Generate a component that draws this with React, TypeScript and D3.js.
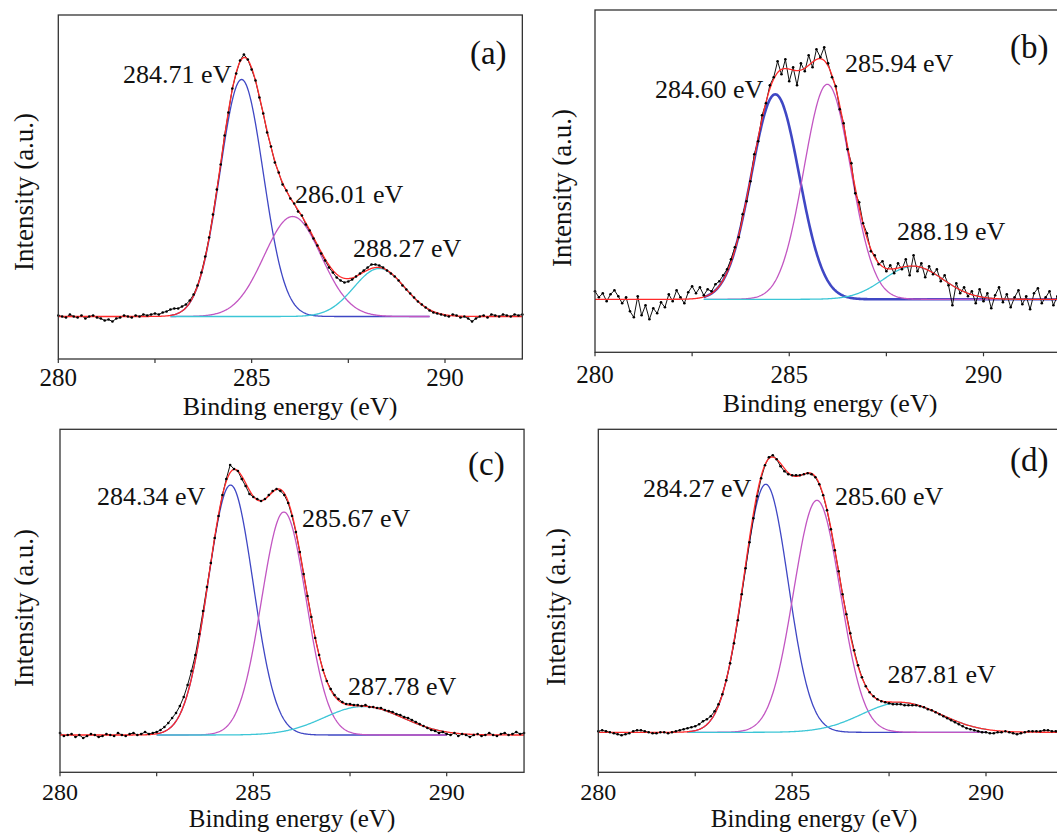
import React from 'react';
import * as d3 from 'd3';

// ---------- shared axis data ----------
const energyStart = 280;
const energyStep = 0.1;
const xDomain = [280, 292];
const xTicksMajor = [280, 285, 290];
const xTicksMinor = [282.5, 287.5];
const xTitle = 'Binding energy (eV)';
const yTitle = 'Intensity (a.u.)';
const panelNames = ['(a)', '(b)', '(c)', '(d)'];
const componentColors = ['#3f47c4', '#c256c2', '#3cc6d6'];

// ---------- measured spectra (intensity above background, a.u., 280.0 -> 292.0 eV, 0.1 eV step) ----------
const spectrumA = [
  1, 0, -1, 2, 0, -1, 1, -2, 0, 1, -1, -2, -4, -3, -5, -2, -1, 1, 0, -1, 1, 0, 2, 1, 2,
  3, 2, 4, 5, 7, 8, 8, 10, 12, 16, 22, 31, 44, 60, 79, 102, 127, 152, 181, 204,
  228, 243, 256, 262, 257, 247, 236, 219, 203, 184, 170, 154, 144, 132, 126,
  118, 113, 105, 101, 92, 86, 78, 71, 63, 56, 49, 44, 39, 36, 34, 35, 37, 40, 43, 46,
  49, 52, 52, 51, 49, 46, 43, 40, 36, 31, 27, 23, 19, 15, 12, 9, 6, 4, 3, 2,
  1, 0, 2, 1, -1, 0, -2, -5, -2, 0, 1, -1, 2, 1, 0, 2, 1, 0, 2, 1, 2,
];
const spectrumB = [
  8, 2, 6, -2, 5, 9, 3, -4, 2, -12, -18, 3, -16, -6, -20, -9, -14, -3, -8, 5, -2, 9, 2, -4, 7,
  13, 6, 12, 4, 10, 8, 15, 18, 24, 30, 40, 52, 62, 85, 98, 118, 145, 158, 184, 196,
  214, 222, 238, 225, 240, 218, 232, 214, 236, 228, 244, 232, 250, 242, 252,
  236, 222, 213, 190, 176, 150, 136, 106, 97, 76, 66, 48, 44, 35, 38, 28, 34, 26, 36, 30,
  40, 24, 44, 28, 36, 22, 33, 25, 30, 18, 24, 14, -6, 16, 6, 12, 3, 8, -4, 10,
  -2, 6, -9, 4, 12, -3, 5, -8, 2, 9, -5, 3, -10, 6, 11, -4, 2, 8, -6, 3, 5,
];
const spectrumC = [
  2, -1, 0, 1, -2, 0, -3, -1, 1, 0, -2, -1, 1, 0, -1, 2, 0, -1, 1, 2, 0, 1, 3, 1, 2,
  3, 5, 8, 12, 17, 22, 29, 38, 50, 64, 80, 101, 124, 148, 172, 197, 219, 240, 256, 270,
  266, 264, 256, 249, 241, 238, 236, 234, 236, 240, 244, 246, 244, 240, 232,
  219, 203, 183, 161, 139, 118, 97, 80, 65, 54, 46, 40, 36, 33, 31, 31, 30, 30, 29, 30,
  28, 28, 27, 27, 25, 24, 23, 21, 20, 18, 17, 15, 13, 11, 9, 7, 5, 4, 2, 3,
  1, 0, 2, -1, 1, 0, -2, 0, 1, -1, 0, 2, 0, -1, 1, 2, 0, 1, 3, 1, 2,
];
const spectrumD = [
  1, 2, 1, 0, -1, -2, -3, -2, -1, 1, 2, 2, 1, 0, -1, -1, 0, 0, -1, 0, 1, 2, 3, 4, 5,
  6, 8, 11, 13, 16, 21, 28, 38, 52, 69, 89, 112, 138, 164, 190, 214, 236, 254, 267, 275,
  277, 273, 266, 261, 258, 257, 257, 257, 258, 259, 258, 255, 248, 237, 222,
  203, 182, 161, 138, 118, 99, 82, 67, 55, 46, 40, 36, 33, 31, 30, 29, 28, 28, 28, 27,
  27, 27, 27, 26, 25, 23, 22, 20, 18, 16, 14, 12, 10, 8, 6, 4, 3, 2, 1, 0,
  0, -1, -1, 0, 0, 1, 0, -1, -2, -1, 0, 1, 1, 1, 1, 2, 2, 1, 1, 2, 2,
];

// ---------- fitted components: centre (eV), height (a.u.), FWHM (eV) ----------
const peakCentersA = [284.74, 286.06, 288.3];
const peakHeightsA = [237, 100, 48];
const peakFwhmA = [1.32, 1.74, 1.55];
const peakLabelsA = ['284.71 eV', '286.01 eV', '288.27 eV'];

const peakCentersB = [284.64, 285.98, 288.19];
const peakHeightsB = [205, 215, 33];
const peakFwhmB = [1.45, 1.42, 1.8];
const peakLabelsB = ['284.60 eV', '285.94 eV', '288.19 eV'];

const peakCentersC = [284.41, 285.79, 287.84];
const peakHeightsC = [250, 223, 28.5];
const peakFwhmC = [1.38, 1.36, 2.4];
const peakLabelsC = ['284.34 eV', '285.67 eV', '287.78 eV'];

const peakCentersD = [284.32, 285.64, 287.81];
const peakHeightsD = [248, 232, 29.7];
const peakFwhmD = [1.36, 1.42, 2.4];
const peakLabelsD = ['284.27 eV', '285.60 eV', '287.81 eV'];

const panelData = [
  { spectrum: spectrumA, centers: peakCentersA, heights: peakHeightsA, fwhm: peakFwhmA, labels: peakLabelsA },
  { spectrum: spectrumB, centers: peakCentersB, heights: peakHeightsB, fwhm: peakFwhmB, labels: peakLabelsB },
  { spectrum: spectrumC, centers: peakCentersC, heights: peakHeightsC, fwhm: peakFwhmC, labels: peakLabelsC },
  { spectrum: spectrumD, centers: peakCentersD, heights: peakHeightsD, fwhm: peakFwhmD, labels: peakLabelsD },
];

// ---------- layout (positions / sizes only) ----------
const layouts = [
  {
    left: 58.3, top: 15, bottom: 359, pxPerEv: 38.67, yDomain: [-42.5, 301.5], compRange: [282.9, 289.6],
    tickY: 386, tickSize: 25, titleX: 290, titleY: 415, titleSize: 26, yTitleX: 33, yTitleY: 192, blueWidth: 1.3,
    labelAt: [[281.676, 233.2], [286.121, 113.2], [287.621, 59.8]], nameAt: [290.646, 252.5],
  },
  {
    left: 595, top: 10, bottom: 352.3, pxPerEv: 38.85, yDomain: [-53, 289.3], compRange: [282.8, 292],
    tickY: 383, tickSize: 25, titleX: 830, titleY: 412, titleSize: 26, yTitleX: 571, yTitleY: 188, blueWidth: 2.6,
    labelAt: [[281.544, 201], [286.435, 227.6], [287.773, 59.3]], nameAt: [290.682, 241.3],
  },
  {
    left: 60, top: 429.3, bottom: 772.3, pxPerEv: 38.67, yDomain: [-37.3, 305.7], compRange: [282.5, 290],
    tickY: 800, tickSize: 24, titleX: 292, titleY: 827.3, titleSize: 25, yTitleX: 33, yTitleY: 608, blueWidth: 1.3,
    labelAt: [[280.957, 230], [286.258, 208.3], [287.448, 40]], nameAt: [290.551, 260],
  },
  {
    left: 598.3, top: 429.3, bottom: 772.3, pxPerEv: 38.77, yDomain: [-40, 303], compRange: [282.3, 290],
    tickY: 799.5, tickSize: 24, titleX: 814, titleY: 827.3, titleSize: 25, yTitleX: 565, yTitleY: 607, blueWidth: 1.3,
    labelAt: [[281.153, 235.6], [286.105, 227.3], [287.461, 49.3]], nameAt: [290.617, 261.3],
  },
];

const FONT = "Liberation Serif, Tinos, Times New Roman, DejaVu Serif, serif";

function gauss(e: number, c: number, h: number, w: number) {
  return h * Math.exp((-4 * Math.LN2 * (e - c) * (e - c)) / (w * w));
}

function Panel({ idx }: { idx: number }) {
  const L = layouts[idx];
  const D = panelData[idx];
  const x = d3
    .scaleLinear()
    .domain(xDomain)
    .range([L.left, L.left + (xDomain[1] - xDomain[0]) * L.pxPerEv]);
  const y = d3.scaleLinear().domain(L.yDomain).range([L.bottom, L.top]);

  const pts = D.spectrum.map((v, i) => ({ e: energyStart + i * energyStep, v }));
  const dataLine = d3
    .line<{ e: number; v: number }>()
    .x((d) => x(d.e))
    .y((d) => y(d.v));

  const grid = d3.range(xDomain[0], xDomain[1] + 1e-9, 0.02);
  const compGrid = d3.range(L.compRange[0], L.compRange[1] + 1e-9, 0.02);
  const sumLine = d3
    .line<number>()
    .x((e) => x(e))
    .y((e) => y(D.centers.reduce((s, c, k) => s + gauss(e, c, D.heights[k], D.fwhm[k]), 0)));

  const x0 = x.range()[0];
  const x1 = x.range()[1];
  const textStyle = { fontFamily: FONT };

  return (
    <g>
      {D.centers.map((c, k) => {
        const ln = d3
          .line<number>()
          .x((e) => x(e))
          .y((e) => y(gauss(e, c, D.heights[k], D.fwhm[k])));
        return (
          <path
            key={k}
            d={ln(compGrid) || ''}
            fill="none"
            stroke={componentColors[k]}
            strokeWidth={k === 0 ? L.blueWidth : 1.3}
          />
        );
      })}
      <path d={dataLine(pts) || ''} fill="none" stroke="#111" strokeWidth={1} />
      <path d={sumLine(grid) || ''} fill="none" stroke="#ff2a2a" strokeWidth={1.3} />
      {pts.map((p, i) => (
        <circle key={i} cx={x(p.e)} cy={y(p.v)} r={1.3} fill="#000" />
      ))}
      <rect x={x0} y={L.top} width={x1 - x0} height={L.bottom - L.top} fill="none" stroke="#333" strokeWidth={1.3} />
      {xTicksMajor.concat(xTicksMinor).map((t) => (
        <line key={t} x1={x(t)} x2={x(t)} y1={L.bottom} y2={L.bottom + 4} stroke="#333" strokeWidth={1.2} />
      ))}
      {xTicksMajor.map((t) => (
        <text key={t} x={x(t)} y={L.tickY} textAnchor="middle" style={textStyle} fontSize={L.tickSize} fill="#111">
          {t}
        </text>
      ))}
      <text x={L.titleX} y={L.titleY} textAnchor="middle" style={textStyle} fontSize={L.titleSize} fill="#111">
        {xTitle}
      </text>
      <text
        transform={`translate(${L.yTitleX},${L.yTitleY}) rotate(-90)`}
        textAnchor="middle"
        style={textStyle}
        fontSize={27}
        fill="#111"
      >
        {yTitle}
      </text>
      {D.labels.map((lab, k) => (
        <text key={lab} x={x(L.labelAt[k][0])} y={y(L.labelAt[k][1])} style={textStyle} fontSize={26} fill="#111">
          {lab}
        </text>
      ))}
      <text x={x(L.nameAt[0])} y={y(L.nameAt[1])} style={textStyle} fontSize={33} fill="#111">
        {panelNames[idx]}
      </text>
    </g>
  );
}

export default function App() {
  return (
    <svg
      width={1057}
      height={833}
      viewBox="0 0 1057 833"
      style={{ position: 'absolute', left: 0, top: 0, background: '#fff' }}
    >
      <rect x={0} y={0} width={1057} height={833} fill="#fff" />
      {[0, 1, 2, 3].map((i) => (
        <Panel key={i} idx={i} />
      ))}
    </svg>
  );
}
